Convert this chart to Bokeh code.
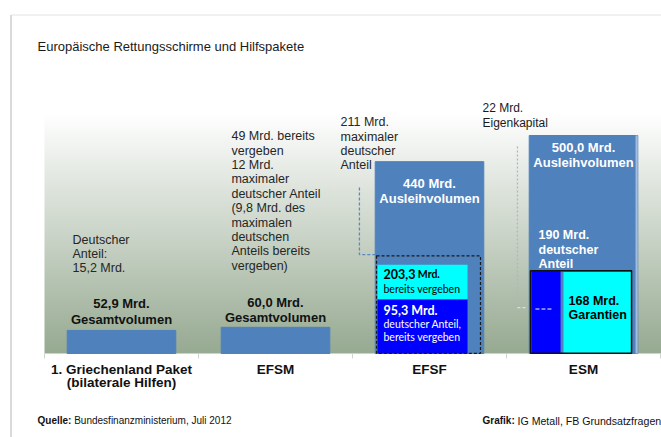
import numpy as np
from bokeh.plotting import figure
from bokeh.models import Range1d, Label
from bokeh.embed import file_html
from bokeh.resources import INLINE

# ---------------- data ----------------
categories = ["1. Griechenland Paket\n(bilaterale Hilfen)", "EFSM", "EFSF", "ESM"]
volumes = [52.9, 60.0, 440.0, 500.0]
volume_labels = ["52,9 Mrd.\nGesamtvolumen", "60,0 Mrd.\nGesamtvolumen",
                 "440 Mrd.\nAusleihvolumen", "500,0 Mrd.\nAusleihvolumen"]
# EFSF detail boxes (heights as drawn in the picture)
efsf_de_given_box = 124.0     # "95,3 Mrd. deutscher Anteil, bereits vergeben"
efsf_given_box = 203.3        # "203,3 Mrd. bereits vergeben"
efsf_de_max_box = 224.0       # dashed frame, "211 Mrd. maximaler deutscher Anteil"
efsf_callout_top = 381.0
# ESM detail boxes
esm_de_share = 190.0          # "190 Mrd. deutscher Anteil"
esm_capital_level = 105.0     # "22 Mrd. Eigenkapital" marker
esm_callout_top = 475.0

# ---------------- styles / geometry ----------------
BAR = "#4F81BD"
CYAN = "#00FFFF"
BLUE = "#0000FF"
TXT = "#262626"
FONT = "Liberation Sans"
FONT2 = "Lato"
W, H = 661, 437
CAT_PX = 154.0        # pixels per category
X0_PX = 44.0          # left edge of the category area
Y0_PX = 353.0         # baseline (value 0)
UNIT_PX = 0.436       # pixels per Mrd.
Y_TOP = 580.0         # top of the shaded plot area (Mrd.)

x_start = -X0_PX / CAT_PX
x_end = (W - X0_PX) / CAT_PX
y_start = -(H - Y0_PX) / UNIT_PX
y_end = Y0_PX / UNIT_PX

p = figure(width=W, height=H, output_backend="svg", toolbar_location=None,
           x_range=Range1d(x_start, x_end), y_range=Range1d(y_start, y_end),
           x_axis_location=None, y_axis_location=None,
           min_border=0)
p.background_fill_color = "white"
p.border_fill_color = "white"
p.outline_line_color = None
p.grid.visible = False


def px_x(px):
    return (px - X0_PX) / CAT_PX


def px_y(py):
    return (Y0_PX - py) / UNIT_PX


# frame lines of the slide
p.line(x=[px_x(10.5), px_x(10.5)], y=[px_y(14.5), y_start], line_color="#b4b4b4", line_width=1)
p.line(x=[px_x(10.5), x_end], y=[px_y(14.5), px_y(14.5)], line_color="#e2e2e2", line_width=1)

# gradient background
N = 256
img = np.empty((N, 1), dtype=np.uint32)
view = img.view(dtype=np.uint8).reshape((N, 1, 4))
bottom_c = np.array([151, 170, 146])
top_c = np.array([255, 255, 255])
for i in range(N):
    t = min(1.0, (i / (N - 1)) * 1.06)
    c = bottom_c + (top_c - bottom_c) * t
    view[i, 0, :3] = c.astype(np.uint8)
    view[i, 0, 3] = 255
p.image_rgba(image=[img], x=0, y=0, dw=x_end, dh=Y_TOP)

xc = np.arange(len(categories)) + 0.5
p.vbar(x=xc, top=volumes, width=0.705, color=BAR)
# light right edge of the ESM column
p.quad(left=[xc[3] + 0.338], right=[xc[3] + 0.352], bottom=[0], top=[volumes[3]],
       fill_color="#a3bde0", line_color=None)

# category ticks
edges = np.arange(len(categories) + 1)
p.segment(x0=edges, x1=edges, y0=[0] * len(edges), y1=[-5 / UNIT_PX] * len(edges),
          line_color="#d2d2d2", line_width=1)

# EFSF details
e = 2
p.quad(left=[e + 0.162], right=[e + 0.747], bottom=[efsf_de_given_box], top=[efsf_given_box],
       fill_color=CYAN, line_color=None)
p.quad(left=[e + 0.162], right=[e + 0.747], bottom=[0], top=[efsf_de_given_box],
       fill_color=BLUE, line_color=None)
p.quad(left=[e + 0.156], right=[e + 0.831], bottom=[0.5], top=[efsf_de_max_box],
       fill_color=None, line_color="#1a1a1a", line_dash="3 2", line_width=1.2)
p.line(x=[e + 0.045, e + 0.045, e + 0.156], y=[efsf_callout_top, efsf_de_max_box + 3, efsf_de_max_box + 3],
       line_color="#5a88c6", line_dash="3 2", line_width=1.3)

# ESM details
s = 3
p.quad(left=[s + 0.162], right=[s + 0.351], bottom=[0], top=[esm_de_share],
       fill_color=BLUE, line_color=None)
p.quad(left=[s + 0.37], right=[s + 0.812], bottom=[0], top=[esm_de_share - 3],
       fill_color=CYAN, line_color=None)
p.quad(left=[s + 0.156], right=[s + 0.812], bottom=[0.5], top=[esm_de_share],
       fill_color=None, line_color="#111111", line_width=1.5)
p.line(x=[s + 0.071, s + 0.071], y=[esm_callout_top, esm_capital_level],
       line_color="#a9b8c8", line_dash="2 2", line_width=1.3)
p.line(x=[s + 0.071, s + 0.136], y=[esm_capital_level, esm_capital_level],
       line_color="#d8e0e8", line_dash="3 2", line_width=1.3)
p.line(x=[s + 0.188, s + 0.292], y=[esm_capital_level - 3, esm_capital_level - 3],
       line_color="white", line_dash="4 2", line_width=1.0)


def lab(x, y, text, size, color=TXT, style="normal", align="left", baseline="middle",
        font=FONT, lh=1.03):
    p.add_layout(Label(x=x, y=y, text=text, text_font_size=f"{size}px", text_color=color,
                       text_font_style=style, text_align=align, text_baseline=baseline,
                       text_font=font, text_line_height=lh))


# category labels
for xi, cat in zip(xc, categories):
    lab(xi, px_y(361), cat, 13.5, color="#111111", style="bold", align="center",
        baseline="top", lh=0.93)

# title and footer
lab(px_x(37), px_y(46), "Europäische Rettungsschirme und Hilfspakete", 13, color="#1a1a1a")
lab(px_x(37), px_y(420), "Quelle:", 10, color="#111111", style="bold")
lab(px_x(73.7), px_y(420), "Bundesfinanzministerium, Juli 2012", 10, color="#111111")
lab(px_x(482), px_y(420), "Grafik:", 10, color="#111111", style="bold")
lab(px_x(517), px_y(420), "IG Metall, FB Grundsatzfragen", 10.6, color="#111111")

# volume labels
lab(xc[0], 96.3, volume_labels[0], 13, color="#111111", style="bold", align="center")
lab(xc[1], 99.8, volume_labels[1], 13, color="#111111", style="bold", align="center")
lab(xc[2], 372.7, volume_labels[2], 13, color="white", style="bold", align="center")
lab(xc[3], 455.3, volume_labels[3], 13, color="white", style="bold", align="center")

# annotations
lab(0.182, 228.2, "Deutscher\nAnteil:\n15,2 Mrd.", 12.5)
lab(1.214, 349.8, "49 Mrd. bereits\nvergeben\n12 Mrd.\nmaximaler\ndeutscher Anteil\n(9,8 Mrd. des\n"
    "maximalen\ndeutschen\nAnteils bereits\nvergeben)", 12.5)
lab(1.922, 481.0, "211 Mrd.\nmaximaler\ndeutscher\nAnteil", 12.5)
lab(2.201, 181.2, "203,3", 12.5, color="black", style="bold", font=FONT2)
lab(2.424, 181.2, "Mrd.", 10.5, color="black", style="bold", font=FONT2)
lab(2.201, 149.0, "bereits vergeben", 10.5, color="black", font=FONT2)
lab(2.201, 98.6, "95,3 Mrd.", 12.5, color="white", style="bold", font=FONT2)
lab(2.201, 52.8, "deutscher Anteil,\nbereits vergeben", 10.5, color="white", font=FONT2, lh=1.11)
lab(2.844, 545.9, "22 Mrd.\nEigenkapital", 12, color="#1a1a1a")
lab(3.208, 238.5, "190 Mrd.\ndeutscher\nAnteil", 12.5, color="white", style="bold", lh=1.06)
lab(3.403, 104.4, "168 Mrd.\nGarantien", 12.5, color="black", style="bold")

open("out.html", "w").write(file_html(p, INLINE))
